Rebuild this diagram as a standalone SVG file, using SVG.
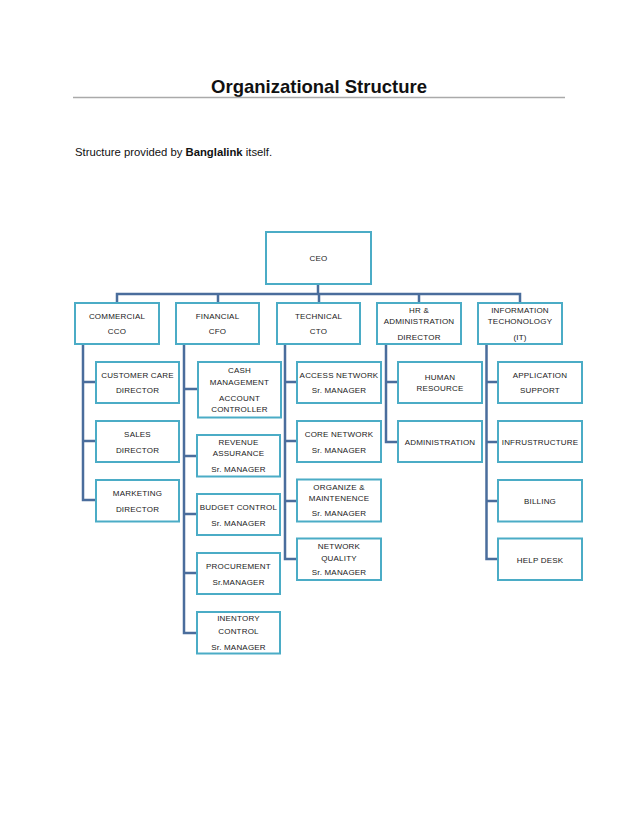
<svg xmlns="http://www.w3.org/2000/svg" width="638" height="826" viewBox="0 0 638 826">
<style>
.bx{fill:#fff;stroke:#4bacc6;stroke-width:2}
.t{font-family:"Liberation Sans",Arial,sans-serif;font-size:8px;fill:#1a1a1a;text-anchor:middle;letter-spacing:0.2px}
.c{fill:none;stroke:#4a6d9c;stroke-width:2.5}
</style>
<rect width="638" height="826" fill="#fff"/>
<text x="319" y="93" font-family="Liberation Sans,Arial,sans-serif" font-size="18.5" font-weight="bold" text-anchor="middle" fill="#111">Organizational Structure</text>
<line x1="73" y1="97.5" x2="565" y2="97.5" stroke="#aaa" stroke-width="1.5"/>
<text x="75" y="156" font-family="Liberation Sans,Arial,sans-serif" font-size="11.3" fill="#111">Structure provided by <tspan font-weight="bold">Banglalink</tspan> itself.</text>
<g id="connectors">
<path class="c" d="M318 284V294M117 302V294H520V302M218 294V302M319 294V302M419 294V302"/>
<path class="c" d="M83 344V500H96M83 382H96M83 441H96"/>
<path class="c" d="M184 344V633H197M184 389H198M184 456H197M184 514H197M184 573H197"/>
<path class="c" d="M285 344V559H297M285 382H297M285 441H297M285 501H297"/>
<path class="c" d="M386 344V442H398M386 382H398"/>
<path class="c" d="M486.5 344V559H498M486.5 382H498M486.5 442H498M486.5 501H498"/>
</g>
<g id="ceo"><rect class="bx" x="266" y="232" width="105" height="52"/><text class="t" x="318.5" y="261">CEO</text></g>
<g id="commercial"><rect class="bx" x="75" y="303" width="84" height="41"/><text class="t" x="117" y="319">COMMERCIAL</text><text class="t" x="117" y="334">CCO</text></g>
<g id="financial"><rect class="bx" x="176" y="303" width="83" height="41"/><text class="t" x="217.5" y="319">FINANCIAL</text><text class="t" x="217.5" y="334">CFO</text></g>
<g id="technical"><rect class="bx" x="277" y="303" width="83" height="41"/><text class="t" x="318.5" y="319">TECHNICAL</text><text class="t" x="318.5" y="334">CTO</text></g>
<g id="hr"><rect class="bx" x="377" y="303" width="84" height="41"/><text class="t" x="419" y="313">HR &amp;</text><text class="t" x="419" y="323.5">ADMINISTRATION</text><text class="t" x="419" y="339.5">DIRECTOR</text></g>
<g id="it"><rect class="bx" x="478" y="303" width="84" height="41"/><text class="t" x="520" y="313">INFORMATION</text><text class="t" x="520" y="324">TECHONOLOGY</text><text class="t" x="520" y="340">(IT)</text></g>
<g id="customer-care"><rect class="bx" x="96" y="362" width="83" height="41"/><text class="t" x="137.5" y="378">CUSTOMER CARE</text><text class="t" x="137.5" y="393">DIRECTOR</text></g>
<g id="sales"><rect class="bx" x="96" y="421" width="83" height="41"/><text class="t" x="137.5" y="437">SALES</text><text class="t" x="137.5" y="452.5">DIRECTOR</text></g>
<g id="marketing"><rect class="bx" x="96" y="480" width="83" height="41.5"/><text class="t" x="137.5" y="495.5">MARKETING</text><text class="t" x="137.5" y="511.5">DIRECTOR</text></g>
<g id="cash"><rect class="bx" x="198" y="362" width="83" height="55.5"/><text class="t" x="239.5" y="373">CASH</text><text class="t" x="239.5" y="384.5">MANAGEMENT</text><text class="t" x="239.5" y="400.5">ACCOUNT</text><text class="t" x="239.5" y="411.5">CONTROLLER</text></g>
<g id="revenue"><rect class="bx" x="197" y="435" width="83" height="41.5"/><text class="t" x="238.5" y="444.5">REVENUE</text><text class="t" x="238.5" y="456">ASSURANCE</text><text class="t" x="238.5" y="471.5">Sr. MANAGER</text></g>
<g id="budget"><rect class="bx" x="197" y="494" width="83" height="41"/><text class="t" x="238.5" y="509.5">BUDGET CONTROL</text><text class="t" x="238.5" y="525.5">Sr. MANAGER</text></g>
<g id="procurement"><rect class="bx" x="197" y="553" width="83" height="41"/><text class="t" x="238.5" y="569">PROCUREMENT</text><text class="t" x="238.5" y="584.5">Sr.MANAGER</text></g>
<g id="inventory"><rect class="bx" x="197" y="612" width="83" height="41.5"/><text class="t" x="238.5" y="621">INENTORY</text><text class="t" x="238.5" y="633.5">CONTROL</text><text class="t" x="238.5" y="649.5">Sr. MANAGER</text></g>
<g id="access"><rect class="bx" x="297" y="362" width="84" height="41"/><text class="t" x="339" y="378">ACCESS NETWORK</text><text class="t" x="339" y="393">Sr. MANAGER</text></g>
<g id="core"><rect class="bx" x="297" y="421" width="84" height="41"/><text class="t" x="339" y="437">CORE NETWORK</text><text class="t" x="339" y="452.5">Sr. MANAGER</text></g>
<g id="organize"><rect class="bx" x="297" y="479.5" width="84" height="42"/><text class="t" x="339" y="489.5">ORGANIZE &amp;</text><text class="t" x="339" y="500.5">MAINTENENCE</text><text class="t" x="339" y="516">Sr. MANAGER</text></g>
<g id="quality"><rect class="bx" x="297" y="538.5" width="84" height="41.5"/><text class="t" x="339" y="549">NETWORK</text><text class="t" x="339" y="561">QUALITY</text><text class="t" x="339" y="575">Sr. MANAGER</text></g>
<g id="human"><rect class="bx" x="398" y="362" width="84" height="41"/><text class="t" x="440" y="379.5">HUMAN</text><text class="t" x="440" y="390.5">RESOURCE</text></g>
<g id="administration"><rect class="bx" x="398" y="421" width="84" height="41"/><text class="t" x="440" y="444.5">ADMINISTRATION</text></g>
<g id="application"><rect class="bx" x="498" y="362" width="84" height="41"/><text class="t" x="540" y="378">APPLICATION</text><text class="t" x="540" y="393">SUPPORT</text></g>
<g id="infrastructure"><rect class="bx" x="498" y="421" width="84" height="41"/><text class="t" x="540" y="444.5">INFRUSTRUCTURE</text></g>
<g id="billing"><rect class="bx" x="498" y="480" width="84" height="41.5"/><text class="t" x="540" y="503.5">BILLING</text></g>
<g id="helpdesk"><rect class="bx" x="498" y="538.5" width="84" height="41.5"/><text class="t" x="540" y="563">HELP DESK</text></g>
</svg>
